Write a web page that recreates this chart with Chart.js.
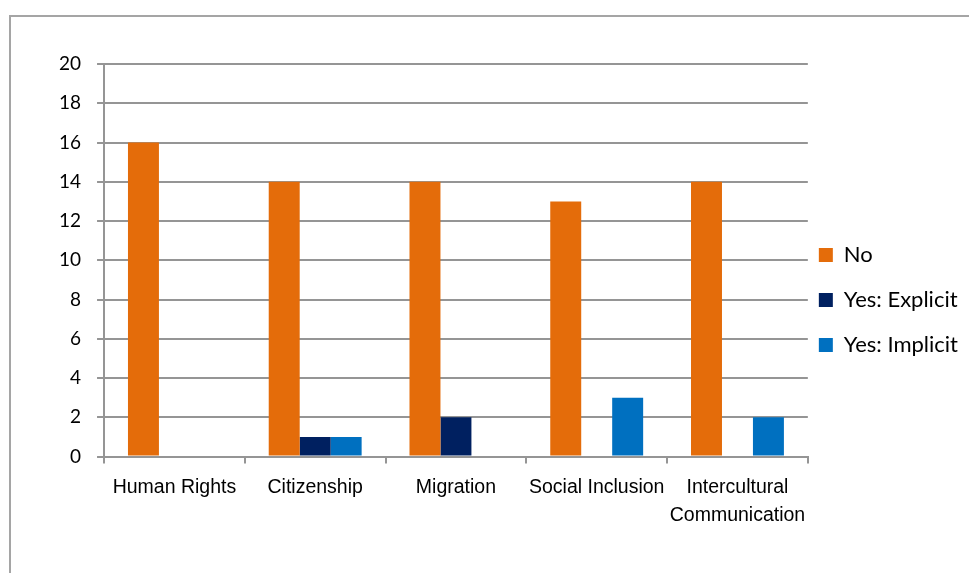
<!DOCTYPE html>
<html>
<head>
<meta charset="utf-8">
<script src="https://cdn.jsdelivr.net/npm/chart.js@4/dist/chart.umd.min.js"></script>
<style>
html,body{margin:0;padding:0;background:#fff;overflow:hidden}
#wrap{position:relative;width:969px;height:573px}
#frame{position:absolute;left:9px;top:15px;width:1000px;height:600px;border-top:2px solid #a5a5a5;border-left:2px solid #a5a5a5}
#c{position:absolute;left:0;top:0}
</style>
</head>
<body>
<div id="wrap"><div id="frame"></div><canvas id="c" width="969" height="573"></canvas></div>
<script>
const categories=['Human Rights','Citizenship','Migration','Social Inclusion',['Intercultural','Communication']];
const seriesNames=['No','Yes: Explicit','Yes: Implicit'];
const valuesNo=[16,14,14,13,14];
const valuesExplicit=[0,1,2,0,0];
const valuesImplicit=[0,1,0,3,2];
const yMin=0, yMax=20, yStep=2;

const cNo='#e46c0a';
const cExplicit='#002060';
const cImplicit='#0070c0';
const gridCol='#959595';

const ds=(label,data,color)=>({label,data,backgroundColor:color,borderWidth:0,categoryPercentage:0.66,barPercentage:1});

const ctx=document.getElementById('c').getContext('2d');
new Chart(ctx,{
  type:'bar',
  data:{
    labels:categories,
    datasets:[
      ds(seriesNames[0],valuesNo,cNo),
      ds(seriesNames[1],valuesExplicit,cExplicit),
      ds(seriesNames[2],valuesImplicit,cImplicit)
    ]
  },
  options:{
    responsive:false,
    animation:false,
    layout:{padding:{top:64,left:43,right:1,bottom:34}},
    plugins:{
      tooltip:{enabled:false},
      legend:{
        position:'right',
        align:'center',
        // blank title only nudges the item block down
        title:{display:true,text:'',padding:0,font:{size:8,lineHeight:'9px'}},
        labels:{
          color:'#000',
          boxWidth:14,boxHeight:14,padding:11,
          font:{family:'Lato',size:22,lineHeight:'34px'},
          // text as one-line array so row height follows font lineHeight
          generateLabels:(chart)=>Chart.defaults.plugins.legend.labels.generateLabels(chart).map(l=>({...l,text:[l.text]}))
        }
      }
    },
    scales:{
      x:{
        grid:{display:true,drawOnChartArea:false,offset:true,color:gridCol,lineWidth:2,tickLength:7},
        border:{color:gridCol,width:2},
        ticks:{color:'#000',padding:10,maxRotation:0,autoSkip:false,font:{family:'Liberation Sans',size:19.5,lineHeight:1.42}}
      },
      y:{
        min:yMin,max:yMax,
        grid:{color:gridCol,lineWidth:2,tickLength:7},
        border:{color:gridCol,width:2},
        ticks:{stepSize:yStep,color:'#000',padding:16,font:{family:'Lato',size:19}}
      }
    }
  }
});
</script>
</body>
</html>
